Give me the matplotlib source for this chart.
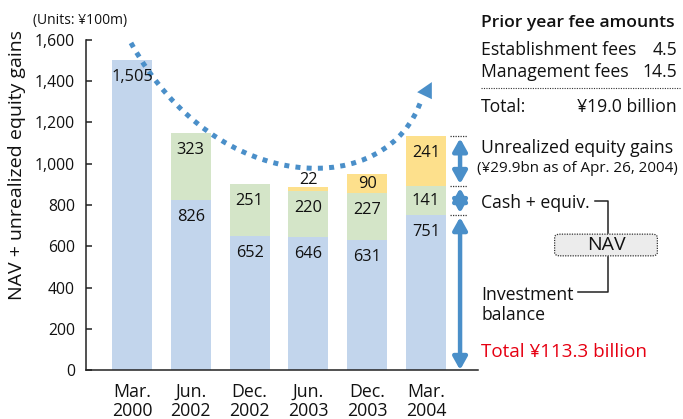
import matplotlib
matplotlib.use("Agg")
import matplotlib.pyplot as plt
from matplotlib.patches import FancyArrowPatch, FancyBboxPatch, Polygon, PathPatch
from matplotlib.path import Path
from matplotlib.lines import Line2D

plt.rcParams['font.family'] = ['Open Sans', 'DejaVu Sans']

# ---- data ----
periods = ['Mar.\n2000', 'Jun.\n2002', 'Dec.\n2002', 'Jun.\n2003', 'Dec.\n2003', 'Mar.\n2004']
investment = [1505, 826, 652, 646, 631, 751]
cash = [0, 323, 251, 220, 227, 141]
unrealized = [0, 0, 0, 22, 90, 241]
yticks = [0, 200, 400, 600, 800, 1000, 1200, 1400, 1600]

C_BLUE = '#c2d5ec'
C_GREEN = '#d4e5c8'
C_YELLOW = '#fde08c'
C_ARROW = '#4a8fc9'
C_TEXT = '#111111'

W, H = 683, 419
fig = plt.figure(figsize=(W / 100, H / 100), dpi=100)
ax = fig.add_axes([86 / W, 49 / H, 392 / W, 330 / H])

x = list(range(len(periods)))
bw = 0.68
ax.bar(x, investment, width=bw, color=C_BLUE, zorder=2)
cash_bottom = investment
ax.bar(x, cash, width=bw, bottom=cash_bottom, color=C_GREEN, zorder=2)
unr_bottom = [a + b for a, b in zip(investment, cash)]
ax.bar(x, unrealized, width=bw, bottom=unr_bottom, color=C_YELLOW, zorder=2)

ax.set_xlim(-0.782, 5.885)
ax.set_ylim(0, 1600)

px_per_unit = 330 / 1600
LBL_FS = 11.8


def seg_label(xi, bottom, val):
    if val <= 0:
        return
    top = bottom + val
    hpx = val * px_per_unit
    txt = f'{val:,}'
    if hpx < 10:
        ax.annotate(txt, (xi, top), xytext=(0, -1), textcoords='offset pixels',
                    ha='center', va='bottom', fontsize=LBL_FS, color=C_TEXT, zorder=5)
    elif hpx < 30:
        ax.text(xi, bottom + val / 2, txt, ha='center', va='center',
                fontsize=LBL_FS, color=C_TEXT, zorder=5)
    else:
        ax.annotate(txt, (xi, top), xytext=(0, -17), textcoords='offset pixels',
                    ha='center', va='center', fontsize=LBL_FS, color=C_TEXT, zorder=5)


for i in x:
    seg_label(i, 0, investment[i])
    seg_label(i, investment[i], cash[i])
    seg_label(i, unr_bottom[i], unrealized[i])

# axes styling
for s in ['top', 'right']:
    ax.spines[s].set_visible(False)
for s in ['left', 'bottom']:
    ax.spines[s].set_linewidth(1.1)
    ax.spines[s].set_color('#222222')
ax.set_yticks(yticks)
ax.set_yticklabels([f'{v:,}' for v in yticks], fontsize=11.3, color=C_TEXT)
ax.tick_params(axis='y', direction='in', length=4, width=1.1, pad=8, color='#222222')
ax.set_xticks(x)
ax.set_xticklabels(periods, fontsize=12.8, color=C_TEXT, linespacing=1.1)
ax.tick_params(axis='x', length=0, pad=9)

# dotted trend curve (decorative)
verts = [(-0.017, 1586), (1.45, 827), (4.39, 827), (4.93, 1318)]
path = Path(verts, [Path.MOVETO, Path.CURVE4, Path.CURVE4, Path.CURVE4])
curve = PathPatch(path, fill=False, edgecolor=C_ARROW, lw=3.6,
                  linestyle=(0, (1, 1.25)), capstyle='butt', zorder=4, clip_on=False)
ax.add_patch(curve)
tri = Polygon([(4.85, 1347), (5.10, 1396), (5.10, 1313)], closed=True,
              facecolor=C_ARROW, edgecolor='none', zorder=4, clip_on=False)
ax.add_patch(tri)

# right-side bracket arrows for Mar. 2004
xa = 5.58
levels = [unr_bottom[5] + unrealized[5], unr_bottom[5], investment[5], 0]
for lv in levels[:3]:
    ax.plot([5.41, 5.70], [lv, lv], color='#333333', lw=0.9, ls=(0, (1, 1)),
            clip_on=False, zorder=3)
gap = 2 / px_per_unit
for top, bot in zip(levels[:-1], levels[1:]):
    a = FancyArrowPatch((xa, top - gap), (xa, bot + (gap if bot > 0 else 0)),
                        arrowstyle='<|-|>,head_length=0.75,head_width=0.42',
                        mutation_scale=10, lw=3.2, color=C_ARROW,
                        shrinkA=0, shrinkB=0, clip_on=False, zorder=4)
    ax.add_patch(a)


def ft(xp, yp, s, **kw):
    return fig.text(xp / W, 1 - yp / H, s, **kw)


ft(33, 24, '(Units: ¥100m)', fontsize=10, color=C_TEXT, va='baseline')
ft(17, 165, 'NAV + unrealized equity gains', rotation=90, ha='center', va='center',
   fontsize=14, color=C_TEXT)

fs = 12.7
ft(481, 27, 'Prior year fee amounts', fontsize=12.6, fontweight='semibold', color=C_TEXT, va='baseline')
ft(481, 55, 'Establishment fees', fontsize=fs, color=C_TEXT, va='baseline')
ft(677, 55, '4.5', fontsize=fs, color=C_TEXT, va='baseline', ha='right')
ft(481, 77, 'Management fees', fontsize=fs, color=C_TEXT, va='baseline')
ft(677, 77, '14.5', fontsize=fs, color=C_TEXT, va='baseline', ha='right')
fig.add_artist(Line2D([481 / W, 680 / W], [1 - 88 / H, 1 - 88 / H], color='#333333',
                      lw=0.8, ls=(0, (1, 1.2))))
ft(481, 112, 'Total:', fontsize=fs, color=C_TEXT, va='baseline')
ft(677, 112, '¥19.0 billion', fontsize=fs, color=C_TEXT, va='baseline', ha='right')

ft(481, 153, 'Unrealized equity gains', fontsize=fs, color=C_TEXT, va='baseline')
ft(477, 172, '(¥29.9bn as of Apr. 26, 2004)', fontsize=10.9, color=C_TEXT, va='baseline')
ft(481, 208, 'Cash + equiv.', fontsize=fs, color=C_TEXT, va='baseline')
ft(481, 300, 'Investment', fontsize=fs, color=C_TEXT, va='baseline')
ft(481, 320, 'balance', fontsize=fs, color=C_TEXT, va='baseline')
ft(481, 357, 'Total ¥113.3 billion', fontsize=13.6, color='#e60012', va='baseline')

# NAV box and connectors
box = FancyBboxPatch((556 / W, 1 - 255 / H), 100 / W, 20 / H,
                     boxstyle='round,pad=0.002,rounding_size=0.008',
                     transform=fig.transFigure, facecolor='#ececec',
                     edgecolor='#333333', lw=0.9, ls=(0, (1, 1)))
fig.add_artist(box)
ft(606, 245, 'NAV', fontsize=14, color=C_TEXT, ha='center', va='center')
fig.add_artist(Line2D([595 / W, 608 / W, 608 / W], [1 - 201 / H, 1 - 201 / H, 1 - 233 / H],
                      color='#222222', lw=1.1))
fig.add_artist(Line2D([608 / W, 608 / W, 578 / W], [1 - 257 / H, 1 - 292 / H, 1 - 292 / H],
                      color='#222222', lw=1.1))

fig.savefig('out.png', dpi=100)
